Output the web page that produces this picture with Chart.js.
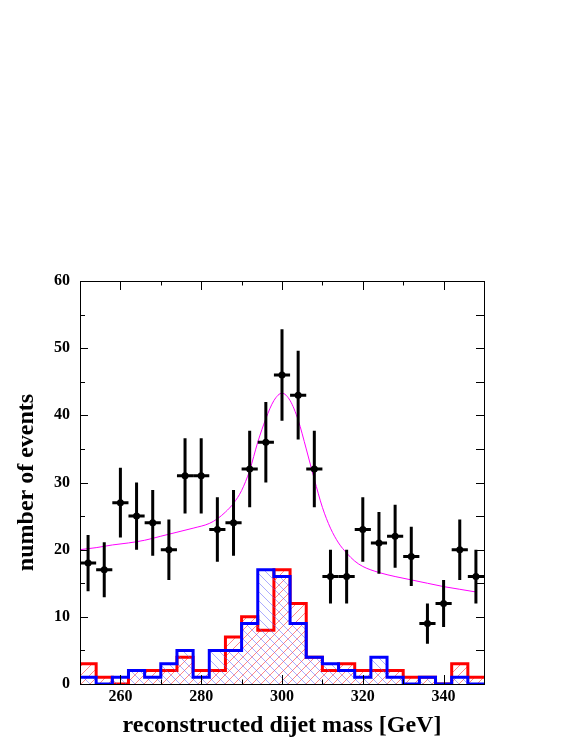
<!DOCTYPE html>
<html>
<head>
<meta charset="utf-8">
<script src="https://cdn.jsdelivr.net/npm/chart.js@4/dist/chart.umd.min.js"></script>
<style>
  html, body { margin: 0; padding: 0; background: #fff; }
  #c { display: block; }
</style>
</head>
<body>
<canvas id="c" width="581" height="752"></canvas>
<script>
// measured data: bin centres, counts, errors
const binCenters = [252, 256, 260, 264, 268, 272, 276, 280, 284, 288, 292, 296, 300,
                    304, 308, 312, 316, 320, 324, 328, 332, 336, 340, 344, 348];
const dataCounts = [18, 17, 27, 25, 24, 20, 31, 31, 23, 24, 32, 36, 46,
                    43, 32, 16, 16, 23, 21, 22, 19, 9, 12, 20, 16];
const dataErrors = [4.2, 4.1, 5.2, 5.0, 4.9, 4.5, 5.6, 5.6, 4.8, 4.9, 5.7, 6.0, 6.8,
                    6.6, 5.7, 4.0, 4.0, 4.8, 4.6, 4.7, 4.4, 3.0, 3.5, 4.5, 4.0];
const binHalfWidth = 2;

// histogram bin edges (left edges + final right edge)
const binEdges = [250, 254, 258, 262, 266, 270, 274, 278, 282, 286, 290, 294, 298,
                  302, 306, 310, 314, 318, 322, 326, 330, 334, 338, 342, 346, 350];
const redHist  = [3, 1, 0, 2, 2, 2, 4, 2, 2, 7, 10, 8, 17, 12, 4, 2, 3, 2, 2, 2, 1, 1, 0, 3, 1];
const blueHist = [1, 0, 1, 2, 1, 3, 5, 1, 5, 5, 9, 17, 16, 9, 4, 3, 2, 1, 4, 1, 0, 1, 0, 1, 0];

// fit curve
const curveX = [250, 254, 258, 262, 266, 270, 274, 278, 282, 284, 286, 288, 290, 292, 294, 296, 298,
                300, 302, 304, 306, 308, 310, 312, 314, 316, 318, 320, 324, 328, 332, 336, 340, 344, 348];
const curveY = [20.0, 20.3, 20.7, 21.0, 21.4, 22.0, 22.6, 23.2, 23.9, 24.6, 25.6, 26.9, 28.8, 31.8, 36.0, 39.5, 42.2,
                43.3, 42.2, 39.3, 35.0, 30.5, 26.3, 23.2, 21.0, 19.5, 18.3, 17.5, 16.6, 16.0, 15.5, 15.0, 14.5, 14.1, 13.7];

const xTicks = [260, 280, 300, 320, 340];
const xMinorTicks = [250, 270, 290, 310, 330, 350];
const yTicks = [0, 10, 20, 30, 40, 50, 60];
const yMinorTicks = [5, 15, 25, 35, 45, 55];

const serif = '"Liberation Serif", "DejaVu Serif", serif';

function histPoints(vals) {
  const pts = vals.map((v, i) => ({ x: binEdges[i], y: v }));
  pts.push({ x: binEdges[binEdges.length - 1], y: vals[vals.length - 1] });
  return pts;
}

const ctx = document.getElementById('c').getContext('2d');

function hatch(color, dir) {
  const n = 9;
  const c = document.createElement('canvas');
  c.width = n; c.height = n;
  const g = c.getContext('2d');
  g.strokeStyle = color;
  g.lineWidth = 1;
  g.beginPath();
  if (dir > 0) {
    g.moveTo(0, n); g.lineTo(n, 0);
    g.moveTo(-1, 1); g.lineTo(1, -1);
    g.moveTo(n - 1, n + 1); g.lineTo(n + 1, n - 1);
  } else {
    g.moveTo(0, 0); g.lineTo(n, n);
    g.moveTo(-1, n - 1); g.lineTo(1, n + 1);
    g.moveTo(n - 1, -1); g.lineTo(n + 1, 1);
  }
  g.stroke();
  return ctx.createPattern(c, 'repeat');
}

// error bars on data points
const errorBars = {
  id: 'errorBars',
  afterDatasetsDraw(chart) {
    const { ctx, scales: { x, y } } = chart;
    ctx.save();
    ctx.strokeStyle = '#000';
    ctx.lineWidth = 3;
    binCenters.forEach((c, i) => {
      const px = x.getPixelForValue(c);
      const py = y.getPixelForValue(dataCounts[i]);
      ctx.beginPath();
      ctx.moveTo(px, y.getPixelForValue(dataCounts[i] + dataErrors[i]));
      ctx.lineTo(px, y.getPixelForValue(dataCounts[i] - dataErrors[i]));
      ctx.moveTo(x.getPixelForValue(c - binHalfWidth), py);
      ctx.lineTo(x.getPixelForValue(c + binHalfWidth), py);
      ctx.stroke();
    });
    ctx.restore();
  }
};

// frame with inward tick marks
const frame = {
  id: 'frame',
  afterDraw(chart) {
    const { ctx, chartArea: a, scales: { x, y } } = chart;
    ctx.save();
    ctx.strokeStyle = '#000';
    ctx.lineWidth = 1;
    ctx.strokeRect(a.left + 0.5, a.top + 0.5, a.right - a.left, a.bottom - a.top);
    ctx.beginPath();
    const xt = (v, len) => {
      const p = Math.round(x.getPixelForValue(v)) + 0.5;
      ctx.moveTo(p, a.bottom); ctx.lineTo(p, a.bottom - len);
      ctx.moveTo(p, a.top); ctx.lineTo(p, a.top + len);
    };
    xTicks.forEach(v => xt(v, 9));
    xMinorTicks.forEach(v => xt(v, 4.5));
    const yt = (v, lenL, lenR) => {
      const p = Math.round(y.getPixelForValue(v)) + 0.5;
      ctx.moveTo(a.left, p); ctx.lineTo(a.left + lenL, p);
      ctx.moveTo(a.right, p); ctx.lineTo(a.right - lenR, p);
    };
    yTicks.forEach(v => yt(v, 8, 8));
    yMinorTicks.forEach(v => yt(v, 5, 8));
    ctx.stroke();
    ctx.restore();
  }
};

new Chart(ctx, {
  type: 'line',
  data: {
    datasets: [
      {
        label: 'data',
        data: binCenters.map((c, i) => ({ x: c, y: dataCounts[i] })),
        showLine: false,
        pointRadius: 3.5,
        pointBackgroundColor: '#000',
        pointBorderWidth: 0,
        order: 0
      },
      {
        label: 'fit',
        data: curveX.map((c, i) => ({ x: c, y: curveY[i] })),
        borderColor: '#ff00ff',
        borderWidth: 1,
        pointRadius: 0,
        cubicInterpolationMode: 'monotone',
        fill: false,
        order: 1
      },
      {
        label: 'blue',
        data: histPoints(blueHist),
        stepped: 'before',
        borderColor: '#0000ff',
        borderWidth: 3,
        pointRadius: 0,
        fill: 'origin',
        backgroundColor: hatch('rgba(90,90,255,0.5)', -1),
        order: 2
      },
      {
        label: 'red',
        data: histPoints(redHist),
        stepped: 'before',
        borderColor: '#ff0000',
        borderWidth: 3,
        pointRadius: 0,
        fill: 'origin',
        backgroundColor: hatch('rgba(255,70,70,0.65)', 1),
        order: 3
      }
    ]
  },
  options: {
    responsive: false,
    animation: false,
    layout: { padding: { top: 281, right: 97, left: 0, bottom: 0 } },
    plugins: { legend: { display: false }, tooltip: { enabled: false } },
    scales: {
      x: {
        type: 'linear',
        min: 250,
        max: 350,
        afterFit: s => { s.height = 68; },
        afterBuildTicks: s => { s.ticks = xTicks.map(v => ({ value: v })); },
        grid: { display: false, drawTicks: false },
        border: { display: false },
        ticks: { color: '#000', padding: 3, maxRotation: 0, font: { family: serif, size: 16, weight: 'bold' } },
        title: {
          display: true,
          text: 'reconstructed dijet mass [GeV]',
          color: '#000',
          padding: { bottom: 12 },
          font: { family: serif, size: 24, weight: 'bold' }
        }
      },
      y: {
        min: 0,
        max: 60,
        afterFit: s => { s.width = 80; },
        afterBuildTicks: s => { s.ticks = yTicks.map(v => ({ value: v })); },
        grid: { display: false, drawTicks: false },
        border: { display: false },
        ticks: { color: '#000', padding: 10, font: { family: serif, size: 16, weight: 'bold' } },
        title: {
          display: true,
          text: 'number of events',
          color: '#000',
          padding: { top: 12 },
          font: { family: serif, size: 24, weight: 'bold' }
        }
      }
    }
  },
  plugins: [errorBars, frame]
});
</script>
</body>
</html>
